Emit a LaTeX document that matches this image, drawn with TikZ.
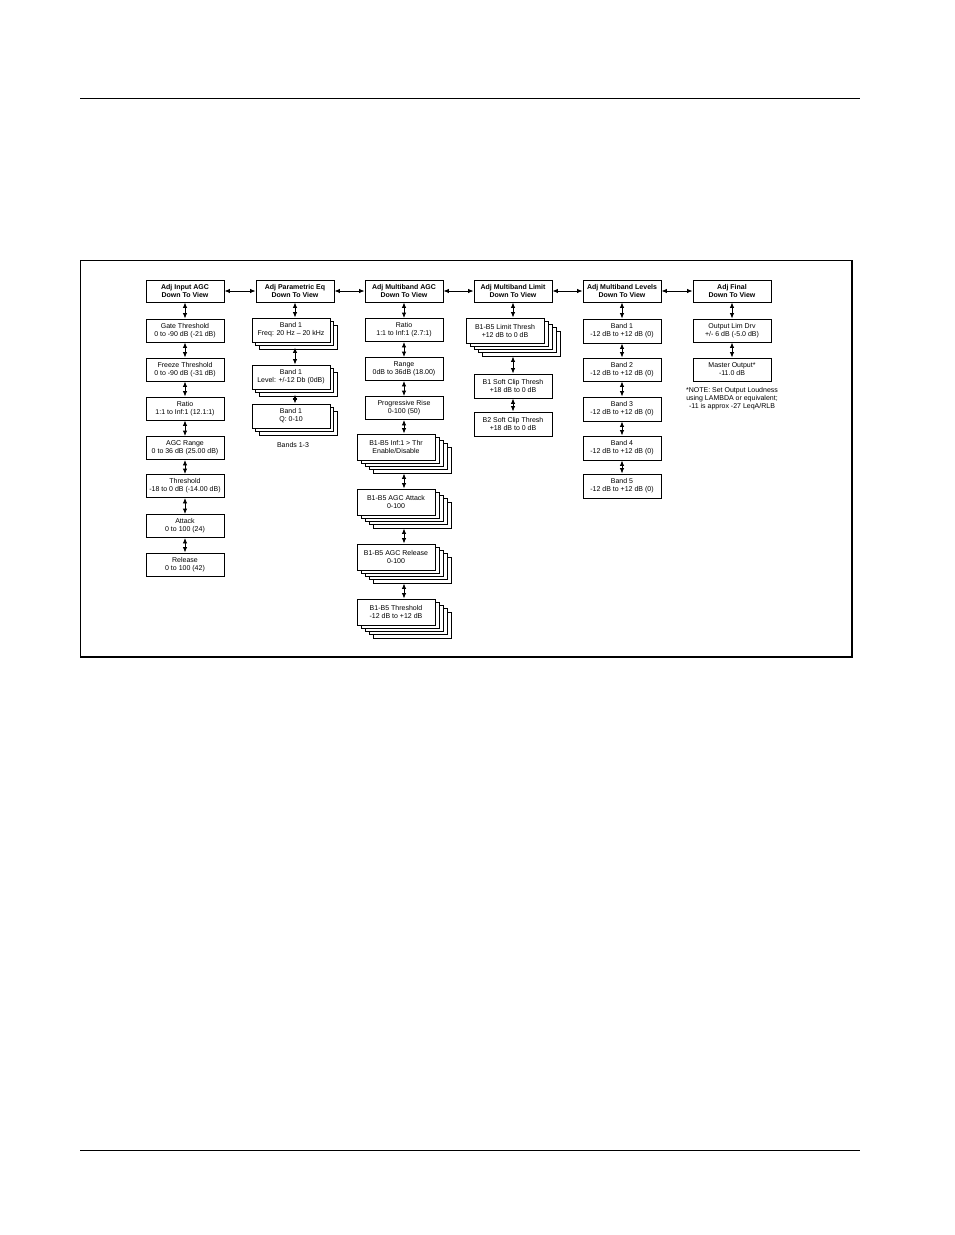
\documentclass[tikz,border=0pt]{standalone}
\usepackage{fontspec}
\setmainfont{Liberation Sans}
\usetikzlibrary{arrows.meta,shadows,calc}
\begin{document}
\begin{tikzpicture}[x=1pt,y=-1pt,
  box/.style={draw,line width=0.9pt,fill=white,minimum width=78pt,minimum height=23pt,inner sep=0pt,align=center,font=\fontsize{7}{8}\selectfont},
  hdr/.style={box,minimum height=22pt,font=\fontsize{7}{8}\selectfont\bfseries},
  lay/.style={copy shadow={shadow xshift=#1*3.5pt,shadow yshift=-#1*3.5pt,draw=black,fill=white,line width=0.9pt}},
  lyr/.style={copy shadow={shadow xshift=#1*4pt,shadow yshift=-#1*3.3pt,draw=black,fill=white,line width=0.9pt}},
  stackA/.style={box,minimum height=24pt,lay=2,lay=1},
  stackB/.style={box,minimum height=26pt,lyr=4,lyr=3,lyr=2,lyr=1},
  stackC/.style={box,minimum height=25pt,lyr=4,lyr=3,lyr=2,lyr=1},
  dar/.style={{Latex[length=5.5pt,width=4.5pt]}-{Latex[length=5.5pt,width=4.5pt]},line width=0.9pt},
  note/.style={align=center,inner sep=0pt,font=\fontsize{7}{8}\selectfont},
]
\useasboundingbox (0,0) rectangle (954,1235);
% page rules
\coordinate (r1a) at (80,98); \coordinate (r1b) at (860,98);
\coordinate (r2a) at (80,1150); \coordinate (r2b) at (860,1150);
\draw[line width=0.8pt] (r1a) -- (r1b);
\draw[line width=0.8pt] (r2a) -- (r2b);
% frame
\coordinate (fa) at (80,260); \coordinate (fb) at (852,657);
\draw[line width=0.8pt] (fa) rectangle (fb);
\draw[line width=1.8pt] (fa -| fb) -- (fb) -- (fb -| fa);

% headers
\node[hdr] (h1) at (185,291) {Adj Input AGC\\Down To View};
\node[hdr] (h2) at (295,291) {Adj Parametric Eq\\Down To View};
\node[hdr] (h3) at (404,291) {Adj Multiband AGC\\Down To View};
\node[hdr] (h4) at (513,291) {Adj Multiband Limit\\Down To View};
\node[hdr] (h5) at (622,291) {Adj Multiband Levels\\Down To View};
\node[hdr] (h6) at (732,291) {Adj Final\\Down To View};
\foreach \a/\b in {h1/h2,h2/h3,h3/h4,h4/h5,h5/h6}
  \draw[dar] (\a.east) -- (\b.west);

% column 1
\node[box] (c1a) at (185,330.5) {Gate Threshold\\0 to -90 dB (-21 dB)};
\node[box] (c1b) at (185,369.5) {Freeze Threshold\\0 to -90 dB (-31 dB)};
\node[box] (c1c) at (185,408.5) {Ratio\\1:1 to Inf:1 (12.1:1)};
\node[box] (c1d) at (185,448) {AGC Range\\0 to 36 dB (25.00 dB)};
\node[box] (c1e) at (185,486) {Threshold\\-18 to 0 dB (-14.00 dB)};
\node[box] (c1f) at (185,526) {Attack\\0 to 100 (24)};
\node[box] (c1g) at (185,564.5) {Release\\0 to 100 (42)};
\foreach \a/\b in {h1/c1a,c1a/c1b,c1b/c1c,c1c/c1d,c1d/c1e,c1e/c1f,c1f/c1g}
  \draw[dar] (\a.south) -- (\b.north);

% column 2
\node[stackA] (b2a) at (291,330) {Band 1\\Freq: 20 Hz -- 20 kHz};
\node[stackA] (b2b) at (291,377) {Band 1\\Level: +/-12 Db (0dB)};
\node[stackA] (b2c) at (291,416) {Band 1\\Q: 0-10};
\node[note] (bl) at (293,445) {Bands 1-3};
\draw[dar] (h2.south) -- (h2.south |- b2a.north);
\draw[dar] ($(h2.south |- b2a.south)+(0,5)$) -- (h2.south |- b2b.north);
\draw[dar] ($(h2.south |- b2b.south)+(0,5)$) -- (h2.south |- b2c.north);

% column 3
\node[box] (c3a) at (404,330) {Ratio\\1:1 to Inf:1 (2.7:1)};
\node[box] (c3b) at (404,369) {Range\\0dB to 36dB (18.00)};
\node[box] (c3c) at (404,408) {Progressive Rise\\0-100 (50)};
\node[stackB] (s3a) at (396,447) {B1-B5 Inf:1 {>} Thr\\Enable/Disable};
\node[stackB] (s3b) at (396,502) {B1-B5 AGC Attack\\0-100};
\node[stackB] (s3c) at (396,557) {B1-B5 AGC Release\\0-100};
\node[stackB] (s3d) at (396,612) {B1-B5 Threshold\\-12 dB to +12 dB};
\foreach \a/\b in {h3/c3a,c3a/c3b,c3b/c3c}
  \draw[dar] (\a.south) -- (\b.north);
\draw[dar] (c3c.south) -- (c3c.south |- s3a.north);
\draw[dar] ($(c3c.south |- s3a.south)+(0,13)$) -- (c3c.south |- s3b.north);
\draw[dar] ($(c3c.south |- s3b.south)+(0,13)$) -- (c3c.south |- s3c.north);
\draw[dar] ($(c3c.south |- s3c.south)+(0,13)$) -- (c3c.south |- s3d.north);

% column 4
\node[stackC] (s4a) at (505,330.5) {B1-B5 Limit Thresh\\+12 dB to 0 dB};
\node[box,minimum height=24pt] (c4b) at (513,386) {B1 Soft Clip Thresh\\+18 dB to 0 dB};
\node[box,minimum height=24pt] (c4c) at (513,424) {B2 Soft Clip Thresh\\+18 dB to 0 dB};
\draw[dar] (h4.south) -- (h4.south |- s4a.north);
\draw[dar] ($(h4.south |- s4a.south)+(0,13)$) -- (c4b.north);
\draw[dar] (c4b.south) -- (c4c.north);

% column 5
\node[box,minimum height=24pt] (c5a) at (622,331) {Band 1\\-12 dB to +12 dB (0)};
\node[box] (c5b) at (622,369.5) {Band 2\\-12 dB to +12 dB (0)};
\node[box,minimum height=24pt] (c5c) at (622,409) {Band 3\\-12 dB to +12 dB (0)};
\node[box,minimum height=24pt] (c5d) at (622,448) {Band 4\\-12 dB to +12 dB (0)};
\node[box,minimum height=24pt] (c5e) at (622,486) {Band 5\\-12 dB to +12 dB (0)};
\foreach \a/\b in {h5/c5a,c5a/c5b,c5b/c5c,c5c/c5d,c5d/c5e}
  \draw[dar] (\a.south) -- (\b.north);

% column 6
\node[box] (c6a) at (732,330.5) {Output Lim Drv\\+/- 6 dB (-5.0 dB)};
\node[box] (c6b) at (732,369.5) {Master Output*\\-11.0 dB};
\node[note] (n6) at (732,399) {*NOTE: Set Output Loudness\\using LAMBDA or equivalent;\\-11 is approx -27 LeqA/RLB};
\foreach \a/\b in {h6/c6a,c6a/c6b}
  \draw[dar] (\a.south) -- (\b.north);
\end{tikzpicture}
\end{document}
